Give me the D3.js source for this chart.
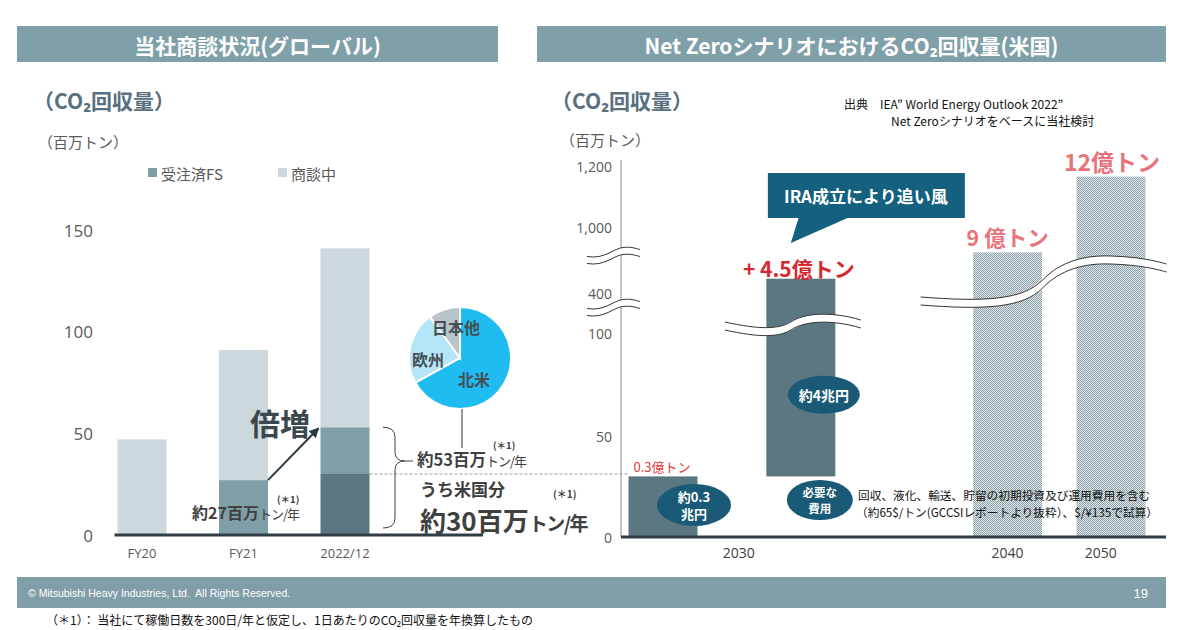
<!DOCTYPE html>
<html><head><meta charset="utf-8">
<script src="https://cdn.jsdelivr.net/npm/d3@7"></script>
<style>
body{margin:0;background:#fff}
svg{display:block}
text{font-family:"Noto Sans CJK JP","Noto Sans",sans-serif}
.num{font-family:"Open Sans","Noto Sans",sans-serif}
</style>
</head><body><svg id="c" width="1183" height="630"></svg>
<script>
// ---------- data ----------
const leftCategories = ["FY20", "FY21", "2022/12"];
const inNegotiation = [47, 64, 88];     // 商談中
const fsOrdered = [0, 27, 53];          // 受注済FS (total)
const usPortion = [0, 0, 30];           // うち米国分
const leftTicks = [0, 50, 100, 150];
const pieRegions = ["北米", "欧州", "日本他"];
const pieShares = [67, 23, 10];
const rightKeys = ["2030", "IRA", "2040", "2050"];
const rightBase = [0, 30, 0, 0];
const rightTop = [30, 530, 770, 1165];
const rightTickValues = [0, 50, 100, 400, 1000, 1200];
const rightTickLabels = ["0", "50", "100", "400", "1,000", "1,200"];
const rightYearLabels = ["2030", "2040", "2050"];

// ---------- setup ----------
const svg = d3.select("#c");
const C = {light:"#cdd8dc", mid:"#7f9ea8", dark:"#5a7782", head:"#7f9fa9", text:"#404040", tick:"#595959",
           base:"#2f3e45", teal:"#1a5a76", callout:"#13607f", red:"#d8282f", pink:"#e8747b"};
const defs = svg.append("defs");
const pat = defs.append("pattern").attr("id","dots").attr("width",2).attr("height",2).attr("patternUnits","userSpaceOnUse");
pat.append("rect").attr("width",2).attr("height",2).attr("fill","#e3e9eb");
pat.append("rect").attr("width",1).attr("height",1).attr("fill","#8aa0a8");
pat.append("rect").attr("x",1).attr("y",1).attr("width",1).attr("height",1).attr("fill","#8aa0a8");

// headers
const headers = [{x:17,w:481,t:"当社商談状況(グローバル)"},{x:537,w:629,t:"Net ZeroシナリオにおけるCO₂回収量(米国)"}];
headers.forEach(h=>{
  svg.append("rect").attr("x",h.x).attr("y",26).attr("width",h.w).attr("height",36).attr("fill",C.head);
  svg.append("text").attr("x",h.x+h.w/2).attr("y",45).attr("text-anchor","middle").attr("dominant-baseline","central")
    .attr("fill","#fff").attr("font-weight","bold").attr("font-size",21).text(h.t);
});

// subtitles
[[33,100,21,"（CO₂回収量）",true,"#587080"],[38,141,15,"（百万トン）",false,C.tick],
 [551,100,21,"（CO₂回収量）",true,"#587080"],[560,139,15,"（百万トン）",false,C.tick]].forEach(s=>{
  svg.append("text").attr("x",s[0]).attr("y",s[1]).attr("dominant-baseline","central").attr("font-size",s[2])
   .attr("font-weight",s[4]?"bold":"normal").attr("fill",s[5]).text(s[3]);
});

// ---------- left chart ----------
const yL = d3.scaleLinear().domain([0,150]).range([535,230]);
const xL = d3.scaleBand().domain(leftCategories).range([66.75,420.25]).paddingInner(0.5172).paddingOuter(0.5);

// legend
[[C.mid,"受注済FS",148],[C.light,"商談中",278]].forEach(l=>{
  svg.append("rect").attr("x",l[2]).attr("y",168).attr("width",9).attr("height",9).attr("fill",l[0]);
  svg.append("text").attr("x",l[2]+13).attr("y",173).attr("dominant-baseline","central").attr("font-size",15).attr("fill",C.tick).text(l[1]);
});

// ticks
svg.append("g").selectAll("text").data(leftTicks).join("text").attr("class","num")
  .attr("x",93).attr("y",d=>yL(d)).attr("text-anchor","end").attr("dominant-baseline","central")
  .attr("font-size",17).attr("fill",C.tick).text(d=>d);

// stacked bars
const segs = [];
leftCategories.forEach((c,i)=>{
  segs.push({c, y0:0, y1:usPortion[i], col:C.dark});
  segs.push({c, y0:usPortion[i], y1:fsOrdered[i], col:C.mid});
  segs.push({c, y0:fsOrdered[i], y1:fsOrdered[i]+inNegotiation[i], col:C.light});
});
svg.append("g").selectAll("rect").data(segs.filter(s=>s.y1>s.y0)).join("rect")
  .attr("x",d=>xL(d.c)).attr("width",xL.bandwidth()).attr("y",d=>yL(d.y1)).attr("height",d=>yL(d.y0)-yL(d.y1)).attr("fill",d=>d.col);

// x labels
svg.append("g").selectAll("text").data(leftCategories).join("text").attr("class","num")
  .attr("x",d=>xL(d)+xL.bandwidth()/2).attr("y",553).attr("text-anchor","middle").attr("dominant-baseline","central")
  .attr("font-size",13).attr("fill",C.tick).text(d=>d);
// baseline
svg.append("line").attr("x1",xL(leftCategories[0])-3).attr("x2",483).attr("y1",yL(0)).attr("y2",yL(0)).attr("stroke",C.base).attr("stroke-width",3);

// dashed line at US share
const i22 = 2;
svg.append("line").attr("x1",xL(leftCategories[i22])+xL.bandwidth()).attr("x2",628).attr("y1",yL(usPortion[i22])).attr("y2",yL(usPortion[i22]))
  .attr("stroke","#9a9a9a").attr("stroke-width",1).attr("stroke-dasharray","3,2");

// arrow 倍増
defs.append("marker").attr("id","ah").attr("viewBox","0 0 10 10").attr("refX",9).attr("refY",5).attr("markerWidth",5).attr("markerHeight",5)
  .attr("orient","auto").append("path").attr("d","M0,0L10,5L0,10z").attr("fill","#2a3a42");
svg.append("line").attr("x1",xL("FY21")+xL.bandwidth()).attr("y1",yL(fsOrdered[1])).attr("x2",xL("2022/12")-2).attr("y2",yL(fsOrdered[2])+1)
  .attr("stroke","#2a3a42").attr("stroke-width",2).attr("marker-end","url(#ah)");
svg.append("text").attr("x",250).attr("y",422).attr("dominant-baseline","central").attr("font-size",30).attr("font-weight","bold").attr("fill","#3a474d").text("倍増");

// mixed-size label helper
function mixed(x,y,parts){
  const t = svg.append("text").attr("x",x).attr("y",y).attr("fill",C.text);
  parts.forEach(p=>t.append("tspan").attr("font-size",p[1]).attr("font-weight",p[2]?"bold":"normal")
    .attr("letter-spacing",p[3]||0).text(p[0]));
  return t;
}
mixed(192,519,[["約27百万",16,true],["トン/年",13,false,-1]]);
mixed(277,503,[["(＊1)",9.5,true]]);
mixed(417,466,[["約53百万",16.5,true],["トン/年",13,false,-1]]);
mixed(493,449,[["(＊1)",9.5,true]]);
mixed(420,496,[["うち米国分",17,true]]);
mixed(420,531,[["約30百万",26,true],["トン/年",19,true,-1.5]]);
mixed(553,498,[["(＊1)",10,true]]);

// brace
const bTop = yL(fsOrdered[2]), bBot = yL(0)-7, bx = 383, tipY = 461;
svg.append("path").attr("fill","none").attr("stroke","#404040").attr("stroke-width",1)
  .attr("d",`M${bx},${bTop} Q${bx+12},${bTop} ${bx+12},${bTop+10} L${bx+12},${tipY-9} Q${bx+12},${tipY} ${bx+22},${tipY} L${bx+30},${tipY}
             M${bx+22},${tipY} Q${bx+12},${tipY} ${bx+12},${tipY+9} L${bx+12},${bBot-10} Q${bx+12},${bBot} ${bx},${bBot}`);

// pie
const pieC = [460,358], pieR = 51;
const pieCol = {"北米":"#1fbcf2","欧州":"#b4e6f8","日本他":"#b8c5ca"};
const pieData = d3.pie().sort(null)(pieShares);
const arc = d3.arc().innerRadius(0).outerRadius(pieR);
const pg = svg.append("g").attr("transform",`translate(${pieC})`);
pg.selectAll("path").data(pieData).join("path").attr("d",arc).attr("fill",(d,i)=>pieCol[pieRegions[i]]).attr("stroke","#fff").attr("stroke-width",2);
const pieLab = {"北米":[14,21],"欧州":[-32,1],"日本他":[-4,-31]};
pg.selectAll("text").data(pieRegions).join("text").attr("x",d=>pieLab[d][0]).attr("y",d=>pieLab[d][1]).attr("text-anchor","middle")
  .attr("dominant-baseline","central").attr("font-size",16).attr("font-weight","bold").attr("fill","#454f54").text(d=>d);
svg.append("line").attr("x1",pieC[0]+2).attr("x2",pieC[0]+2).attr("y1",pieC[1]+pieR).attr("y2",448).attr("stroke","#333").attr("stroke-width",1);

// ---------- right chart ----------
const yR = d3.scaleLinear().domain(rightTickValues).range([537,436,333,293,227,166]);
const slot = {"2030":0,"IRA":4,"2040":10,"2050":13};
const xR = d3.scaleLinear().domain([0,13]).range([663,1111]);
const bw = 69;
const axX = 621;

svg.append("line").attr("x1",axX).attr("x2",axX).attr("y1",160).attr("y2",yR(0)).attr("stroke","#8a8a8a").attr("stroke-width",1);
svg.append("g").selectAll("text").data(rightTickValues).join("text").attr("class","num")
  .attr("x",612).attr("y",d=>yR(d)).attr("text-anchor","end").attr("dominant-baseline","central")
  .attr("font-size",14).attr("fill",C.tick).text((d,i)=>rightTickLabels[i]);

const rbars = rightKeys.map((k,i)=>({k, y0:rightBase[i], y1:rightTop[i], hatch:i>=2}));
svg.append("g").selectAll("rect").data(rbars).join("rect")
  .attr("x",d=>xR(slot[d.k])-bw/2).attr("width",bw).attr("y",d=>yR(d.y1)).attr("height",d=>yR(d.y0)-yR(d.y1))
  .attr("fill",d=>d.hatch?"url(#dots)":C.dark);

svg.append("line").attr("x1",axX).attr("x2",1166).attr("y1",yR(0)).attr("y2",yR(0)).attr("stroke",C.base).attr("stroke-width",3);

const yearPos = [xR(2.2), xR(slot["2040"]), xR(12.7)];
svg.append("g").selectAll("text").data(rightYearLabels).join("text").attr("class","num")
  .attr("x",(d,i)=>yearPos[i]).attr("y",552).attr("text-anchor","middle").attr("dominant-baseline","central")
  .attr("font-size",14).attr("fill",C.text).text(d=>d);

// break marks
function wave(d, w){
  svg.append("path").attr("d",d).attr("fill","none").attr("stroke","#fff").attr("stroke-width",w);
  svg.append("path").attr("d",d).attr("fill","none").attr("stroke","#333").attr("stroke-width",1).attr("transform",`translate(0,${-w/2})`);
  svg.append("path").attr("d",d).attr("fill","none").attr("stroke","#333").attr("stroke-width",1).attr("transform",`translate(0,${w/2})`);
}
[256,308].forEach(yc=>{
  wave(`M${axX-34},${yc+4} C${axX-16},${yc+7} ${axX-8},${yc-4} ${axX+2},${yc-5} C${axX+10},${yc-6} ${axX+15},${yc-4} ${axX+19},${yc-3}`, 7);
});
const xi = xR(slot["IRA"]);
wave(`M${xi-76},${326} C${xi-40},${334} ${xi-22},${333} ${xi-10},${326} C${xi+3},${317} ${xi+30},${315} ${xi+60},${324}`, 8);
const x4 = xR(slot["2040"]);
wave(`M${x4-87},301 C${x4-22},306 ${x4+15},304 ${x4+35},284 C${x4+53},265 ${x4+78},259 ${x4+103},260 C${x4+133},261 ${x4+148},265 ${x4+159},268`, 8);

// value labels
const x3 = xR(slot["2030"]), x5 = xR(slot["2050"]);
svg.append("text").attr("x",x3-1).attr("y",yR(rightTop[0])-10).attr("text-anchor","middle").attr("dominant-baseline","central")
  .attr("font-size",13).attr("fill","#e0393e").text("0.3億トン");
svg.append("text").attr("x",xi-2).attr("y",yR(rightTop[1])-11).attr("text-anchor","middle").attr("dominant-baseline","central")
  .attr("font-size",21).attr("font-weight","bold").attr("fill",C.red).text("+ 4.5億トン");
svg.append("text").attr("x",x4).attr("y",yR(rightTop[2])-16).attr("text-anchor","middle").attr("dominant-baseline","central")
  .attr("font-size",21.5).attr("font-weight","bold").attr("fill",C.pink).text("9 億トン");
svg.append("text").attr("x",x5+1).attr("y",yR(rightTop[3])-16).attr("text-anchor","middle").attr("dominant-baseline","central")
  .attr("font-size",23).attr("font-weight","bold").attr("fill",C.pink).text("12億トン");

// callout
const cx0 = xi-33;
svg.append("rect").attr("x",cx0).attr("y",173).attr("width",197).attr("height",45).attr("fill",C.callout);
svg.append("path").attr("d",`M${cx0+31},217 L${cx0+82},217 L${cx0+23},243 Z`).attr("fill",C.callout);
svg.append("text").attr("x",cx0+98).attr("y",195).attr("text-anchor","middle").attr("dominant-baseline","central")
  .attr("font-size",17).attr("font-weight","bold").attr("fill","#fff").text("IRA成立により追い風");

// ellipses
const ells = [
  {x:x3+31, y:505, rx:37, ry:21, lines:["約0.3","兆円"], fs:13},
  {x:xi+23, y:yR(70), rx:36, ry:19, lines:["約4兆円"], fs:14},
  {x:xi+19, y:500, rx:33, ry:20, lines:["必要な","費用"], fs:11.5}
];
ells.forEach(e=>{
  svg.append("ellipse").attr("cx",e.x).attr("cy",e.y).attr("rx",e.rx).attr("ry",e.ry).attr("fill",C.teal);
  const lh = e.fs+4;
  e.lines.forEach((l,j)=>{
    svg.append("text").attr("x",e.x).attr("y",e.y+(j-(e.lines.length-1)/2)*lh).attr("text-anchor","middle").attr("dominant-baseline","central")
      .attr("font-size",e.fs).attr("font-weight","bold").attr("fill","#fff").text(l);
  });
});

// notes
svg.append("text").attr("x",858).attr("y",494).attr("dominant-baseline","central").attr("font-size",11.7).attr("fill","#111")
  .text("回収、液化、輸送、貯留の初期投資及び運用費用を含む");
svg.append("text").attr("x",856).attr("y",511).attr("dominant-baseline","central").attr("font-size",11.7).attr("fill","#111")
  .text("（約65$/トン(GCCSIレポートより抜粋）、$/¥135で試算）");

svg.append("text").attr("x",844).attr("y",103).attr("dominant-baseline","central").attr("font-size",12).attr("fill","#111")
  .text("出典　IEA” World Energy Outlook 2022”");
svg.append("text").attr("x",891).attr("y",120).attr("dominant-baseline","central").attr("font-size",12).attr("fill","#111")
  .text("Net Zeroシナリオをベースに当社検討");

// footer
svg.append("rect").attr("x",17).attr("y",577).attr("width",1149).attr("height",31).attr("fill","#7f9ea8");
svg.append("text").attr("x",28).attr("y",593).attr("dominant-baseline","central").attr("font-size",10.5)
  .style("font-family","'Liberation Sans Narrow','Liberation Sans',sans-serif").style("white-space","pre").attr("fill","#fff")
  .text("© Mitsubishi Heavy Industries, Ltd.  All Rights Reserved.");
svg.append("text").attr("x",1148).attr("y",593).attr("text-anchor","end").attr("dominant-baseline","central").attr("font-size",13)
  .style("font-family","'Liberation Sans Narrow','Liberation Sans',sans-serif").attr("fill","#fff").text("19");
svg.append("text").attr("x",46).attr("y",619).attr("dominant-baseline","central").attr("font-size",12).attr("fill","#111")
  .text("（＊1）： 当社にて稼働日数を300日/年と仮定し、1日あたりのCO₂回収量を年換算したもの");
</script>
</body></html>
